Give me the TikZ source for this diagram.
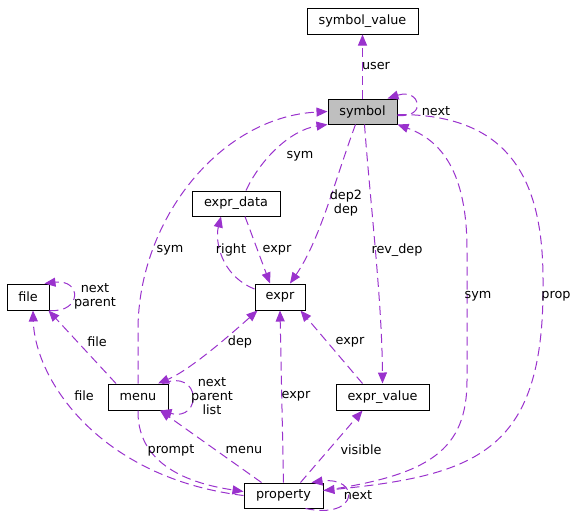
\documentclass[tikz,border=0pt]{standalone}
\usepackage{fontspec}
\setmainfont{DejaVu Sans}
\usetikzlibrary{arrows.meta}
\definecolor{edgepurple}{HTML}{9A32CD}
\definecolor{boxgray}{HTML}{BFBFBF}
\tikzset{
  class_node/.style = {rectangle, draw=black, fill=white, line width=1pt,
    inner sep=0pt, minimum height=26pt, font=\fontsize{12.8}{14}\selectfont},
  main_node/.style = {class_node, fill=boxgray},
  edge_label/.style = {inner sep=0pt, align=center,
    font=\fontsize{12.8}{14}\selectfont},
  member_edge/.style = {draw=edgepurple, line width=1pt,
    dash pattern=on 9pt off 5pt, -{Triangle[length=11pt,width=9pt]}}
}
\begin{document}
\begin{tikzpicture}[x=1pt, y=-1pt]
  \useasboundingbox (0,0) rectangle (580,523);
  % classes
  \node[class_node, minimum width=111pt] (symbol_value) at (362.5,21) {symbol\_value};
  \node[main_node, minimum width=69pt, minimum height=25pt] (symbol) at (362.5,111.5) {symbol};
  \node[class_node, minimum width=88pt, minimum height=25pt] (expr_data) at (236,203.5) {expr\_data};
  \node[class_node, minimum width=42pt] (file) at (28,297) {file};
  \node[class_node, minimum width=50pt] (expr) at (280,297) {expr};
  \node[class_node, minimum width=60pt] (menu) at (138,397) {menu};
  \node[class_node, minimum width=93pt] (expr_value) at (382.5,397) {expr\_value};
  \node[class_node, minimum width=79pt, minimum height=25pt] (property) at (283.5,495.5) {property};

  % members of symbol
  \draw[member_edge] (symbol.north) -- (symbol_value.south);
  \draw[member_edge] ([yshift=-4pt]symbol.east) .. controls (428,118) and (420,88) .. ([xshift=-10pt]symbol.north east);
  \draw[member_edge] ([xshift=-7pt]symbol.south) .. controls (335,180) and (320,240) .. ([xshift=10pt]expr.north);
  \draw[member_edge] ([xshift=2pt]symbol.south) .. controls (370,200) and (382,300) .. (expr_value.north);
  \draw[member_edge] ([yshift=-3pt]symbol.east) .. controls (510,114) and (543,180) .. (543,280)
    .. controls (545,450) and (480,475) .. ([yshift=5pt]property.east);

  % members of property
  \draw[member_edge] ([yshift=5pt]property.east) .. controls (430,475) and (467,450) .. (467,380)
    -- (467,250) .. controls (467,170) and (440,140) .. (symbol.south east);
  \draw[member_edge] (property.west) .. controls (100,478) and (35,380) .. ([xshift=5pt]file.south);
  \draw[member_edge] ([xshift=-22pt]property.north) -- ([xshift=22pt]menu.south);
  \draw[member_edge] (property.north) -- (expr.south);
  \draw[member_edge] ([xshift=17pt]property.north) -- ([xshift=-20pt]expr_value.south);
  \draw[member_edge] ([xshift=22pt]property.south) .. controls (360,520) and (360,476) .. ([xshift=-12pt]property.north east);

  % members of menu
  \draw[member_edge] (menu.north) -- (138,330) .. controls (138,220) and (220,117) .. (symbol.west);
  \draw[member_edge] ([xshift=-22pt]menu.north) -- ([xshift=-1pt]file.south east);
  \draw[member_edge] (menu.south) .. controls (137,470) and (200,485) .. ([yshift=4pt]property.west);
  \draw[member_edge, {Triangle[length=11pt,width=9pt]}-{Triangle[length=11pt,width=9pt]}]
    ([xshift=3pt]expr.south west) .. controls (230,335) and (190,370) .. ([xshift=20pt]menu.north);
  \draw[member_edge] ([xshift=-6pt]menu.north east) .. controls (202,368) and (202,422) .. ([xshift=-8pt]menu.south east);

  % the rest
  \draw[member_edge] ([xshift=10pt]expr_data.north) .. controls (260,160) and (290,130) .. (symbol.south west);
  \draw[member_edge] ([xshift=9pt]expr_data.south) -- ([xshift=-10pt]expr.north);
  \draw[member_edge] ([yshift=8pt]expr.west) .. controls (220,275) and (215,240) .. ([xshift=-15pt]expr_data.south);
  \draw[member_edge] (file.south east) .. controls (82,313) and (82,279) .. ([xshift=-5pt]file.north east);
  \draw[member_edge] ([xshift=-20pt]expr_value.north) -- ([xshift=-5pt]expr.south east);

  % member names
  \node[edge_label] (user_label) at (376,66) {user};
  \node[edge_label] (symbol_next_label) at (436,111) {next};
  \node[edge_label] (data_sym_label) at (300,156) {sym};
  \node[edge_label] (dep_label) at (346,203) {dep2\\dep};
  \node[edge_label] (right_label) at (231,250) {right};
  \node[edge_label] (data_expr_label) at (277,250) {expr};
  \node[edge_label] (menu_sym_label) at (170,250) {sym};
  \node[edge_label] (rev_dep_label) at (397,250) {rev\_dep};
  \node[edge_label] (prop_sym_label) at (478,296) {sym};
  \node[edge_label] (prop_label) at (556,296) {prop};
  \node[edge_label] (file_next_label) at (95,296) {next\\parent};
  \node[edge_label] (menu_file_label) at (97,342) {file};
  \node[edge_label] (menu_dep_label) at (240,342) {dep};
  \node[edge_label] (value_expr_label) at (350,342) {expr};
  \node[edge_label] (menu_next_label) at (212,396) {next\\parent\\list};
  \node[edge_label] (prop_file_label) at (84,396) {file};
  \node[edge_label] (prop_expr_label) at (296,396) {expr};
  \node[edge_label] (prompt_label) at (171,450) {prompt};
  \node[edge_label] (prop_menu_label) at (244,450) {menu};
  \node[edge_label] (visible_label) at (361,450) {visible};
  \node[edge_label] (prop_next_label) at (358,495) {next};
\end{tikzpicture}
\end{document}
